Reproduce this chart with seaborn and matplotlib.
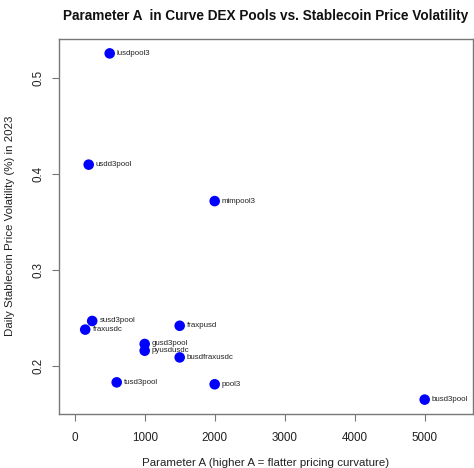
import matplotlib
matplotlib.use("Agg")
import matplotlib.pyplot as plt
import seaborn as sns
import pandas as pd

pools = ["lusdpool3", "usdd3pool", "mimpool3", "susd3pool", "fraxusdc", "fraxpusd",
         "gusd3pool", "pyusdusdc", "busdfraxusdc", "tusd3pool", "pool3", "busd3pool"]
param_a = [500, 200, 2000, 250, 150, 1500, 1000, 1000, 1500, 600, 2000, 5000]
volatility = [0.526, 0.410, 0.372, 0.247, 0.238, 0.242, 0.223, 0.216, 0.209, 0.183, 0.181, 0.165]
x_ticks = [0, 1000, 2000, 3000, 4000, 5000]
y_ticks = [0.2, 0.3, 0.4, 0.5]

df = pd.DataFrame({"A": param_a, "vol": volatility, "pool": pools})

sns.set_style("white")
plt.rcParams["font.family"] = ["Liberation Sans", "DejaVu Sans"]

fig = plt.figure(figsize=(4.74, 4.68), dpi=100)
ax = fig.add_axes([59.3 / 474, 1 - 414 / 468, (472.7 - 59.3) / 474, (414 - 39.3) / 468])

sns.scatterplot(data=df, x="A", y="vol", ax=ax, color="#0000FF", s=58,
                edgecolor="none", linewidth=0, zorder=3)
for xv, yv, name in zip(param_a, volatility, pools):
    ax.annotate(name, (xv, yv), xytext=(5.2, 0), textcoords="offset points",
                ha="left", va="center", fontsize=5.7, color="#222222")

ax.set_xlim(-220, 5686)
ax.set_ylim(0.150, 0.5407)
ax.set_xticks(x_ticks)
ax.set_yticks(y_ticks)
ax.set_xticklabels([str(t) for t in x_ticks])
ax.set_yticklabels([f"{t:.1f}" for t in y_ticks])

for sp in ax.spines.values():
    sp.set_color("#777777")
    sp.set_linewidth(1.0)

ax.tick_params(axis="both", which="both", length=5, width=0.8, color="#777777",
               labelsize=8.4, labelcolor="#222222", direction="out",
               bottom=True, left=True)
ax.tick_params(axis="x", pad=8)
ax.tick_params(axis="y", pad=6)
for lbl in ax.get_yticklabels():
    lbl.set_rotation(90)
    lbl.set_va("center")

ax.set_xlabel("Parameter A (higher A = flatter pricing curvature)", fontsize=8.25, color="#222222")
ax.set_ylabel("Daily Stablecoin Price Volatility (%) in 2023", fontsize=8.25, color="#222222")
ax.xaxis.set_label_coords(0.5, (414 - 462.7) / (414 - 39.3))
ax.xaxis.label.set_va("center")
ax.yaxis.set_label_coords((10 - 59.3) / (472.7 - 59.3), (414 - 225.5) / (414 - 39.3))
ax.yaxis.label.set_va("center")

ax.set_title("Parameter A  in Curve DEX Pools vs. Stablecoin Price Volatility",
             fontsize=9.8, fontweight="bold", pad=14, color="#111111")

fig.savefig("out.png", dpi=100)
